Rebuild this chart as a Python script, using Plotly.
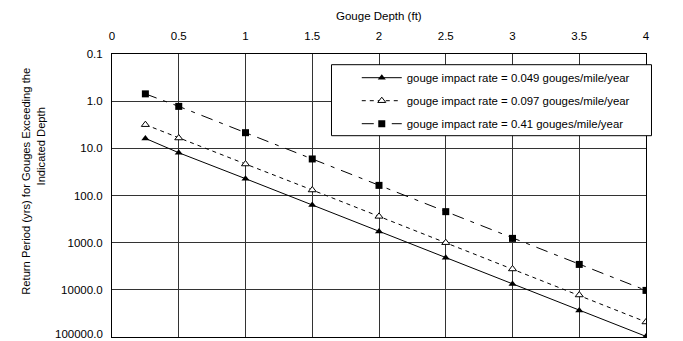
import math
import plotly.graph_objects as go

depth = [0.25, 0.5, 1, 1.5, 2, 2.5, 3, 3.5, 4]
rate_049 = [6.15, 12.4, 44, 159, 577, 2080, 7520, 27300, 97000]
rate_097 = [3.15, 6.04, 21.5, 76.4, 277, 1000, 3610, 12860, 48000]
rate_41 = [0.70, 1.29, 4.66, 16.8, 61, 220, 811, 2890, 10280]

names = ["gouge impact rate = 0.049 gouges/mile/year",
         "gouge impact rate = 0.097 gouges/mile/year",
         "gouge impact rate = 0.41 gouges/mile/year"]

y_tickvals = [0.1, 1, 10, 100, 1000, 10000, 100000]
y_ticktext = ["0.1", "1.0", "10.0", "100.0", "1000.0", "10000.0", "100000.0"]
x_tickvals = [0, 0.5, 1, 1.5, 2, 2.5, 3, 3.5, 4]
x_ticktext = ["0", "0.5", "1", "1.5", "2", "2.5", "3", "3.5", "4"]

FONT = "Liberation Sans, Arial, sans-serif"

fig = go.Figure()
fig.add_trace(go.Scatter(x=depth, y=rate_049, name=names[0], mode="lines+markers",
                         legendgroup="a",
                         line=dict(color="black", width=1),
                         marker=dict(symbol="triangle-up", size=7, color="black")))
fig.add_trace(go.Scatter(x=depth, y=rate_097, name=names[1], mode="lines+markers",
                         legendgroup="b",
                         line=dict(color="black", width=1, dash="4px,4px"),
                         marker=dict(symbol="triangle-up", size=7, color="white",
                                     line=dict(color="black", width=1))))
fig.add_trace(go.Scatter(x=depth, y=rate_41, name=names[2], mode="lines+markers",
                         legendgroup="c",
                         line=dict(color="black", width=1, dash="12px,7px,4px,7px"),
                         marker=dict(symbol="square", size=7, color="black")))

L, R, T, B = 112, 683 - 646.5, 54.3, 341 - 337.3
W = 683 - L - R
H = 341 - T - B

def px(xp):
    return (xp - L) / W

def py(yp):
    return (341 - B - yp) / H

fig.update_layout(
    width=683, height=341,
    margin=dict(l=L, r=R, t=T, b=B),
    paper_bgcolor="white", plot_bgcolor="white",
    font=dict(family=FONT, size=11, color="black"),
    showlegend=True,
    legend=dict(x=px(357), y=py(63.5), xanchor="left", yanchor="top",
                bgcolor="rgba(0,0,0,0)", borderwidth=0,
                font=dict(family=FONT, size=11.4, color="black"),
                tracegroupgap=4, itemwidth=40),
    xaxis=dict(side="top", range=[0, 4], tickvals=x_tickvals, ticktext=x_ticktext,
               showgrid=True, gridcolor="#333", gridwidth=1,
               showline=True, linecolor="black", linewidth=1, mirror=True,
               ticks="", ticklabelstandoff=8, zeroline=False,
               tickfont=dict(family=FONT, size=11.5)),
    yaxis=dict(type="log", range=[5, -1], tickvals=y_tickvals[:-1], ticktext=y_ticktext[:-1],
               showgrid=True, gridcolor="#333", gridwidth=1,
               showline=True, linecolor="black", linewidth=1, mirror=True,
               ticks="", ticklabelstandoff=6, zeroline=False,
               tickfont=dict(family=FONT, size=11.5)),
    shapes=[dict(type="rect", xref="paper", yref="paper",
                 x0=px(331.7), x1=px(652), y0=py(136), y1=py(65),
                 fillcolor="white", line=dict(color="black", width=1), layer="above")],
    annotations=[
        dict(text="Gouge Depth (ft)", xref="paper", yref="paper",
             x=px(379.5), y=py(16.7), xanchor="center", yanchor="middle",
             showarrow=False, font=dict(family=FONT, size=11.5)),
        dict(text=y_ticktext[-1], xref="paper", yref="y",
             x=px(105), y=math.log10(y_tickvals[-1]), xanchor="right", yanchor="middle",
             yshift=3, showarrow=False, font=dict(family=FONT, size=11.5)),
        dict(text="Return Period (yrs) for Gouges Exceeding the",
             xref="paper", yref="paper", x=px(26), y=py(182),
             xanchor="center", yanchor="middle", textangle=-90,
             showarrow=False, font=dict(family=FONT, size=11.2)),
        dict(text="Indicated Depth",
             xref="paper", yref="paper", x=px(40.7), y=py(147),
             xanchor="center", yanchor="middle", textangle=-90,
             showarrow=False, font=dict(family=FONT, size=11.2)),
    ],
)

fig.write_html("out.html")
